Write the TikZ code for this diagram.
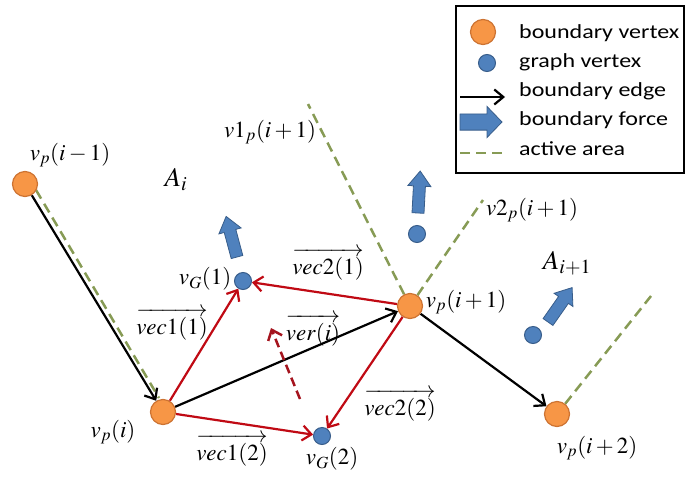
\documentclass[tikz,border=0pt]{standalone}
\usepackage{mathptmx}
\usepackage[no-math]{fontspec}
\newfontfamily\legendfont[FakeStretch=1.2]{Carlito}
\usetikzlibrary{arrows.meta,calc}
\definecolor{vorange}{RGB}{247,150,70}
\definecolor{vorangeb}{RGB}{205,115,50}
\definecolor{gblue}{RGB}{79,129,189}
\definecolor{gblueb}{RGB}{56,93,138}
\definecolor{vred}{RGB}{192,10,20}
\definecolor{dred}{RGB}{165,20,30}
\definecolor{agreen}{RGB}{135,155,85}
\newcommand{\myvec}[1]{\overrightarrow{\rule{0pt}{0.8em}#1}}
\pgfdeclarelayer{bg}
\pgfsetlayers{bg,main}
\begin{document}
\begin{tikzpicture}[x=1pt,y=-1pt,
  bvert/.style={circle, fill=vorange, draw=vorangeb, line width=1.2pt, minimum size=25pt, inner sep=0pt},
  gvert/.style={circle, fill=gblue, draw=gblueb, line width=1pt, minimum size=17pt, inner sep=0pt},
  bedge/.style={line width=2.2pt, -{Straight Barb[length=9pt,width=15pt]}},
  redge/.style={vred, line width=2.2pt, -{Straight Barb[length=9pt,width=15pt]}},
  active/.style={agreen, line width=2.5pt, dash pattern=on 10pt off 6pt},
  verarrow/.style={dred, line width=2.5pt, dash pattern=on 9pt off 5pt, -{Straight Barb[length=9pt,width=15pt]}},
  lbl/.style={font=\fontsize{23}{27}\selectfont, inner sep=0pt},
  albl/.style={font=\fontsize{27}{31}\selectfont, inner sep=0pt},
  ltxt/.style={font=\legendfont\fontsize{20}{24}\selectfont, inner sep=0pt, anchor=base west},
  force/.pic={\draw[gblueb, fill=gblue, line width=0.8pt] (0,-6) -- (27,-6) -- (27,-11.5) -- (42,0) -- (27,11.5) -- (27,6) -- (0,6) -- cycle;}
]
\useasboundingbox (0,0) rectangle (685,477);

% vertices
\node[bvert] (vpm) at (25,184) {};
\node[bvert] (vpi) at (163,412) {};
\node[bvert] (vpi1) at (410,306) {};
\node[bvert] (vpi2) at (557,414) {};
\node[gvert] (vg1) at (243,281) {};
\node[gvert] (vg2) at (322,436) {};
\node[gvert] (g3) at (417,234) {};
\node[gvert] (g4) at (533,335) {};

\coordinate (a0s) at (36,190);
\coordinate (a0e) at (159,398);
\coordinate (a1) at (308,104);
\coordinate (a2) at (483,200);
\coordinate (a3) at (651,296);
\coordinate (vs) at (300,399);
\coordinate (ve) at (271,328);

\begin{pgfonlayer}{bg}
\draw[active] (a0s) -- (a0e);
\draw[active] (vpi1) -- (a1);
\draw[active] (vpi1) -- (a2);
\draw[active] (vpi2) -- (a3);
\draw[bedge] (vpm) -- (vpi);
\draw[bedge] (vpi) -- (vpi1);
\draw[bedge] (vpi1) -- (vpi2);
\draw[redge] (vpi) -- (vg1);
\draw[redge] (vpi) -- (vg2);
\draw[redge] (vpi1) -- (vg1);
\draw[redge] (vpi1) -- (vg2);
\draw[verarrow] (vs) -- (ve);
\end{pgfonlayer}

% boundary forces
\pic[rotate=105] at (237,257) {force};
\pic[rotate=87] at (418,213) {force};
\pic[rotate=55] at (548,322) {force};

% labels
\node[lbl] (l1) at (70,155) {$v_p(i-1)$};
\node[albl] (l2) at (176,180) {$A_i$};
\node[lbl] (l3) at (270,132) {$v1_p(i+1)$};
\node[lbl] (l4) at (532,210) {$v2_p(i+1)$};
\node[albl] (l5) at (567,263) {$A_{i+1}$};
\node[lbl] (l6) at (205,279) {$v_G(1)$};
\node[lbl] (l7) at (328,264) {$\myvec{vec2(1)}$};
\node[lbl] (l8) at (466,302) {$v_p(i+1)$};
\node[lbl] (l9) at (172,324) {$\myvec{vec1(1)}$};
\node[lbl] (l10) at (313,330) {$\myvec{ver(i)}$};
\node[lbl] (l11) at (400,405) {$\myvec{vec2(2)}$};
\node[lbl] (l12) at (113,432) {$v_p(i)$};
\node[lbl] (l13) at (232,450) {$\myvec{vec1(2)}$};
\node[lbl] (l14) at (332,459) {$v_G(2)$};
\node[lbl] (l15) at (597,448) {$v_p(i+2)$};

% legend
\node[draw, line width=1.8pt, minimum width=228pt, minimum height=167pt, anchor=north west, inner sep=0pt] (legend) at (455,5) {};
\node[bvert] (lbv) at (483,32) {};
\node[gvert] (lgv) at (487,63) {};
\coordinate (le1) at (460,97);
\coordinate (le2) at (505,97);
\draw[bedge] (le1) -- (le2);
\pic[yscale=1.35] at (460,122) {force};
\coordinate (la1) at (460,153);
\coordinate (la2) at (506,153);
\draw[active] (la1) -- (la2);
\node[ltxt] (t1) at (519,38) {boundary vertex};
\node[ltxt] (t2) at (519,67) {graph vertex};
\node[ltxt] (t3) at (519,96) {boundary edge};
\node[ltxt] (t4) at (519,125) {boundary force};
\node[ltxt] (t5) at (519,155) {active area};
\end{tikzpicture}
\end{document}
